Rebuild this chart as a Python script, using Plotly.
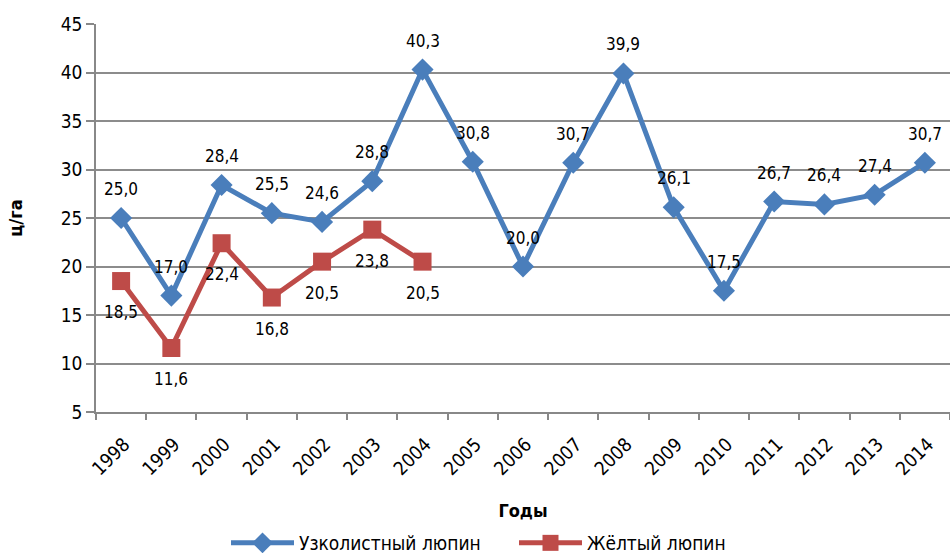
import plotly.graph_objects as go

years = [str(y) for y in range(1998, 2015)]
narrow = [25.0, 17.0, 28.4, 25.5, 24.6, 28.8, 40.3, 30.8, 20.0, 30.7, 39.9, 26.1, 17.5, 26.7, 26.4, 27.4, 30.7]
yellow = [18.5, 11.6, 22.4, 16.8, 20.5, 23.8, 20.5, None, None, None, None, None, None, None, None, None, None]
y_ticks = [5, 10, 15, 20, 25, 30, 35, 40, 45]

FONT = "DejaVu Sans Condensed, Roboto, Arial"
BLUE = "#4a7ebb"
RED = "#be4b48"

def fmt(v):
    return f"{v:.1f}".replace(".", ",")

fig = go.Figure()
fig.add_trace(go.Scatter(
    x=years, y=narrow, name="Узколистный люпин", mode="lines+markers",
    line=dict(color=BLUE, width=5),
    marker=dict(symbol="diamond", size=17, color=BLUE),
    cliponaxis=False,
))
fig.add_trace(go.Scatter(
    x=years, y=yellow, name="Жёлтый люпин", mode="lines+markers",
    line=dict(color=RED, width=5),
    marker=dict(symbol="square", size=18, color=RED),
    connectgaps=False, cliponaxis=False,
))

for i, v in enumerate(narrow):
    fig.add_annotation(x=i, y=v, xref="x", yref="y", text=fmt(v), showarrow=False,
                       yshift=29, font=dict(size=17, family=FONT, color="#000000"))
for i, v in enumerate(yellow):
    if v is None:
        continue
    fig.add_annotation(x=i, y=v, xref="x", yref="y", text=fmt(v), showarrow=False,
                       yshift=-31, font=dict(size=17, family=FONT, color="#000000"))

fig.update_layout(
    width=950, height=553,
    margin=dict(l=96, r=0, t=24, b=141, autoexpand=False),
    paper_bgcolor="white", plot_bgcolor="white",
    font=dict(family=FONT, size=17, color="#000000"),
    showlegend=True,
    legend=dict(orientation="h", x=(226 - 96) / 854, xanchor="left",
                y=-(524 - 412) / 388, yanchor="top",
                font=dict(size=19, family=FONT), itemwidth=63,
                entrywidth=210, entrywidthmode="pixels"),
    xaxis=dict(
        type="category", tickson="boundaries", ticks="outside", ticklen=6,
        tickcolor="#888888", tickwidth=1.5,
        showline=True, linecolor="#888888", linewidth=1.5,
        showgrid=False, tickangle=-45, tickfont=dict(size=19, family=FONT),
        ticklabelstandoff=12, ticklabelshift=3,
        range=[-0.5, 16.5], automargin=False,
        title=dict(text="<b>Годы</b>", font=dict(size=18, family=FONT), standoff=26),
    ),
    yaxis=dict(
        range=[5, 45], tickvals=y_ticks, ticktext=[str(v) for v in y_ticks],
        ticks="outside", ticklen=8, tickcolor="#888888", tickwidth=1.5,
        showline=True, linecolor="#888888", linewidth=1.5,
        showgrid=True, gridcolor="#8c8c8c", gridwidth=1.5,
        zeroline=False, tickfont=dict(size=19, family=FONT), automargin=False,
        title=dict(text="<b>ц/га</b>", font=dict(size=18, family=FONT), standoff=33),
    ),
)

fig.write_html("out.html", config={"displayModeBar": False},
               post_script="document.body.style.margin='0';")
